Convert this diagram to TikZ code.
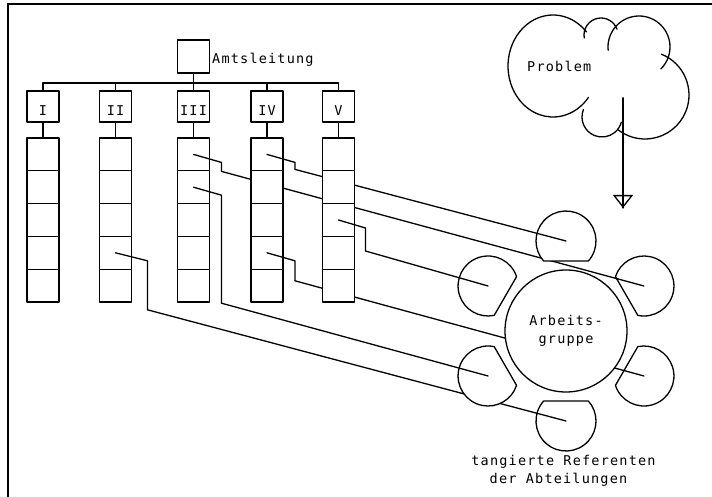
\documentclass[tikz,border=0pt]{standalone}
\usepackage{fontspec}
\newfontfamily\plotter[LetterSpace=8.9]{DejaVu Sans Mono}
\usetikzlibrary{arrows.meta,calc}
\pgfdeclarelayer{behind}
\pgfsetlayers{behind,main}

% A referent's line: from the centre of a cell, a short jog to the right,
% a drop, then straight to the seat.  The long stretch runs behind boxes and
% seats; the part inside its own seat is drawn again on top.
% #1 cell, #2 jog to the right, #3 drop, #4 seat, #5 seat direction from table
\newcommand\referent[5]{%
  \draw[wire] (#1.center) -- ++(#2,-8) -- ++(0,-#3) coordinate (#1-bend);
  \begin{pgfonlayer}{behind}
    \draw[wire] (#1-bend) -- (s-#4);
  \end{pgfonlayer}
  \pgfmathsetmacro\seatstart{#5+228.19}
  \begin{scope}
    \clip (s-#4) ++(\seatstart:30) arc[start angle=\seatstart, delta angle=263.62, radius=30] -- cycle;
    \draw[wire] (#1-bend) -- (s-#4);
  \end{scope}
}

\begin{document}
\begin{tikzpicture}[x=1pt,y=1pt,
  wire/.style={line width=1.3pt, line join=round, line cap=round},
  box/.style={draw, wire, fill=white, minimum width=32pt, minimum height=32.8pt, inner sep=0pt},
  txt/.style={font=\plotter\fontsize{13.5}{18}\selectfont, inner sep=0pt},
]
\useasboundingbox (0,0) rectangle (712,-497);

% frame
\draw[line width=1.5pt] (8,-497) -- (8,-4) -- (712,-4);

% head of office
\node[box, minimum height=33pt] (amt) at (193.5,-56.5) {};
\node[txt, anchor=base west] (amtlabel) at (212,-64) {Amtsleitung};
\coordinate (bus) at (193.5,-83);

% departments I..V with their five sections each
\foreach \c/\xc/\rn in {1/43/I,2/115.5/II,3/193.5/III,4/267/IV,5/338.5/V}{
  \node[box, minimum height=31pt] (r\c) at (\xc,-106.5) {};
  \node[txt, anchor=base] (rl\c) at (\xc,-116) {\rn};
  \foreach \k in {1,...,5}{
    \node[box] (c\c\k) at (\xc,{-138-32.8*(\k-0.5)}) {};
  }
  \draw[wire] (r\c.south) -- (c\c1.north);
}
\draw[wire] (amt.south) -- (r3.north);
\draw[wire] (r1.north) -- (r1.north |- bus) -- (r5.north |- bus) -- (r5.north);
\draw[wire] (r2.north) -- (r2.north |- bus);
\draw[wire] (r4.north) -- (r4.north |- bus);

% problem cloud
\draw[wire] (553,-66) ++(42:45 and 51) arc[start angle=42, end angle=322, x radius=45, y radius=51];
\draw[wire] (601,-35) ++(190:17) arc[start angle=190, end angle=20, radius=17];
\draw[wire] (639,-47) ++(186:31) arc[start angle=186, end angle=-45, radius=31];
\draw[wire] (645,-95) ++(68:44) arc[start angle=68, end angle=-128, radius=44];
\draw[wire] (602,-117) ++(158:20) arc[start angle=158, end angle=345, radius=20];
\node[txt, anchor=base west] (problabel) at (527,-72) {Problem};
\coordinate (problem) at (623,-98);
\coordinate (arrowtip) at (623,-208);
\draw[wire, -{Triangle[open, width=20pt, length=13pt]}] (problem) -- (arrowtip);
\draw[wire] (problem) -- (arrowtip);

% working group: table with six seats
\coordinate (T) at (566,-331);
\node[draw, wire, circle, fill=white, minimum size=122pt, inner sep=0pt, txt, align=center]
  (table) at (T) {Arbeits-\\gruppe};
\foreach \a/\nm in {90/top,30/ur,-30/lr,-90/bot,210/ll,150/ul}{
  \coordinate (s-\nm) at ($(T)+(\a:90)$);
  \pgfmathsetmacro\seatstart{\a+228.19}
  \draw[wire, fill=white] (s-\nm) ++(\seatstart:30) arc[start angle=\seatstart, delta angle=263.62, radius=30] -- cycle;
}

% referents sent to the group
\referent{c31}{28}{9}{ur}{30}
\referent{c41}{28}{7}{top}{90}
\referent{c32}{28}{108}{ll}{210}
\referent{c53}{27}{23}{ul}{150}
\referent{c24}{32}{49}{bot}{-90}
\referent{c44}{28}{20}{lr}{-30}

\node[txt, anchor=base] (ref1) at (563.5,-465) {tangierte Referenten};
\node[txt, anchor=base] (ref2) at (558.5,-483) {der Abteilungen};
\end{tikzpicture}
\end{document}
